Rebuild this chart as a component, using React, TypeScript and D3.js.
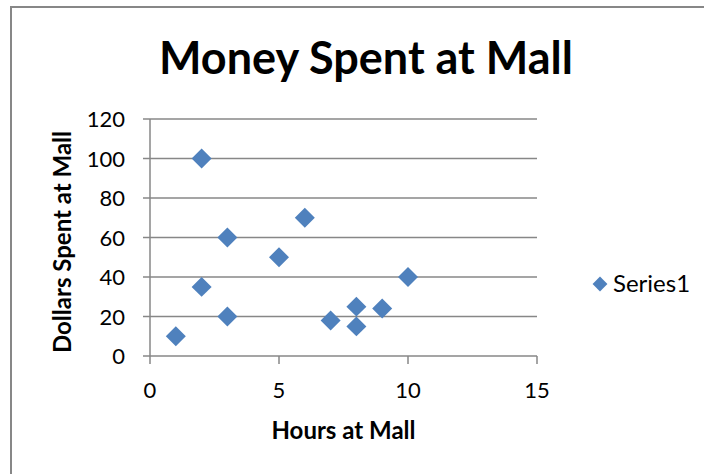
import * as d3 from 'd3';
import React from 'react';

const hours = [1, 2, 2, 3, 3, 5, 6, 7, 8, 8, 9, 10];
const dollars = [10, 35, 100, 60, 20, 50, 70, 18, 25, 15, 24, 40];
const xTicks = [0, 5, 10, 15];
const yTicks = [0, 20, 40, 60, 80, 100, 120];

const width = 704;
const height = 474;
const margin = {top: 119, right: 167, bottom: 118, left: 150};
const font = "Lato, 'Open Sans', sans-serif";
const grey = '#878787';
const blue = '#4F81BD';

export default function App() {
	const x = d3.scaleLinear()
		.domain([0, 15])
		.range([margin.left, width - margin.right]);
	const y = d3.scaleLinear()
		.domain([0, 120])
		.range([height - margin.bottom, margin.top]);

	const diamond = d3.symbol().type(d3.symbolSquare).size(200)();
	const points = hours.map((h, i) => ({h, d: dollars[i]}));

	return (
		<svg width={width} height={height} style={{position: 'absolute', left: 0, top: 0}}>
			<rect x={0} y={0} width={width} height={height} fill="#fff" />
			<rect x={11} y={7} width={width + 20} height={height + 20} fill="none" stroke={grey} strokeWidth={2} />
			<text x={366} y={74} textAnchor="middle" fontFamily={font} fontWeight="bold" fontSize={45}>
				Money Spent at Mall
			</text>

			{yTicks.map(t => (
				<g key={t}>
					<line x1={x(0) - 7} x2={x(15)} y1={y(t)} y2={y(t)} stroke={grey} strokeWidth={1.5} />
					<text x={x(0) - 25} y={y(t) + 8} textAnchor="end" fontFamily={font} fontSize={22}>{t}</text>
				</g>
			))}
			<line x1={x(0)} x2={x(0)} y1={y(120)} y2={y(0)} stroke={grey} strokeWidth={1.5} />
			{xTicks.map(t => (
				<g key={t}>
					<line x1={x(t)} x2={x(t)} y1={y(0)} y2={y(0) + 8} stroke={grey} strokeWidth={1.5} />
					<text x={x(t)} y={398} textAnchor="middle" fontFamily={font} fontSize={22}>{t}</text>
				</g>
			))}

			{points.map((p, i) => (
				<path key={i} d={diamond} fill={blue}
					transform={`translate(${x(p.h)},${y(p.d)}) rotate(45)`} />
			))}

			<text x={(x(0) + x(15)) / 2} y={439} textAnchor="middle" fontFamily={font} fontWeight="bold" fontSize={24}>
				Hours at Mall
			</text>
			<text transform="translate(71,242) rotate(-90)" textAnchor="middle"
				fontFamily={font} fontWeight="bold" fontSize={24}>
				Dollars Spent at Mall
			</text>

			<path d={d3.symbol().type(d3.symbolSquare).size(110)()} fill={blue} transform="translate(600,284) rotate(45)" />
			<text x={613} y={292} fontFamily={font} fontSize={24}>Series1</text>
		</svg>
	);
}
